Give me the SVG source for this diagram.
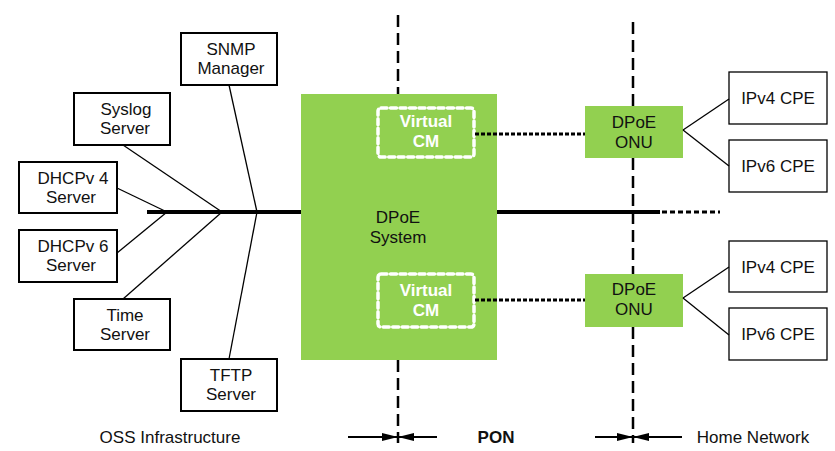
<svg xmlns="http://www.w3.org/2000/svg" width="835" height="451" viewBox="0 0 835 451">
<defs>
<style>
text{font-family:"Liberation Sans",Arial,sans-serif;font-size:17px;fill:#111;text-anchor:middle}
.box{fill:#fff;stroke:#000;stroke-width:2}
.cpe{fill:#fff;stroke:#000;stroke-width:1.3}
.green{fill:#92d050}
.vcm{fill:none;stroke:#fff;stroke-width:3.5;stroke-dasharray:6 3.5;stroke-linecap:round}
.w{fill:#fff;font-weight:bold}
.thin{stroke:#000;stroke-width:1.3;fill:none}
.bus{stroke:#000;stroke-width:4;fill:none}
.bdash{stroke:#000;stroke-width:3;stroke-dasharray:5 3;fill:none}
.vdash{stroke:#000;stroke-width:2.5;stroke-dasharray:12 6;fill:none}
.dot{stroke:#000;stroke-width:3;stroke-dasharray:4 2;fill:none}
.arr{stroke:#000;stroke-width:2;fill:none}
</style>
<marker id="ah" viewBox="0 0 16 8" refX="16" refY="4" markerWidth="16" markerHeight="8" markerUnits="userSpaceOnUse" orient="auto">
<path d="M0,0 L16,4 L0,8 Z" fill="#000"/>
</marker>
</defs>

<g id="snmp"><rect class="box" x="181" y="33" width="96" height="52"/><text x="231" y="55">SNMP</text><text x="231" y="74">Manager</text></g>
<g id="syslog"><rect class="box" x="74" y="93" width="96" height="52"/><text x="126" y="115">Syslog</text><text x="125" y="134">Server</text></g>
<g id="dhcpv4"><rect class="box" x="19" y="162" width="98" height="51"/><text x="73" y="184">DHCPv 4</text><text x="71" y="203">Server</text></g>
<g id="dhcpv6"><rect class="box" x="19" y="230" width="98" height="52"/><text x="73" y="252">DHCPv 6</text><text x="71" y="271">Server</text></g>
<g id="time"><rect class="box" x="74" y="299" width="96" height="51"/><text x="125" y="321">Time</text><text x="125" y="340">Server</text></g>
<g id="tftp"><rect class="box" x="181" y="359" width="96" height="52"/><text x="231" y="381">TFTP</text><text x="231" y="400">Server</text></g>

<g id="dpoe-system">
<rect class="green" x="301" y="94" width="196" height="266"/>
<text x="398" y="223">DPoE</text><text x="398" y="243">System</text>
</g>
<g id="vcm1"><rect class="vcm" x="378" y="108" width="96" height="49" rx="3"/><text class="w" x="426" y="127">Virtual</text><text class="w" x="426" y="147">CM</text></g>
<g id="vcm2"><rect class="vcm" x="378" y="274" width="96" height="53" rx="3"/><text class="w" x="426" y="296">Virtual</text><text class="w" x="426" y="316">CM</text></g>

<g id="onu1"><rect class="green" x="585" y="106" width="98" height="52"/><text x="634" y="128">DPoE</text><text x="634" y="148">ONU</text></g>
<g id="onu2"><rect class="green" x="585" y="274" width="98" height="53"/><text x="634" y="295">DPoE</text><text x="634" y="315">ONU</text></g>

<g id="ipv4-1"><rect class="cpe" x="729" y="72" width="98" height="52"/><text x="778" y="104">IPv4 CPE</text></g>
<g id="ipv6-1"><rect class="cpe" x="729" y="140" width="98" height="52"/><text x="778" y="172">IPv6 CPE</text></g>
<g id="ipv4-2"><rect class="cpe" x="729" y="241" width="98" height="51"/><text x="778" y="273">IPv4 CPE</text></g>
<g id="ipv6-2"><rect class="cpe" x="729" y="308" width="98" height="52"/><text x="778" y="340">IPv6 CPE</text></g>

<g id="connectors">
<line class="vdash" x1="398" y1="15" x2="398" y2="94"/>
<line class="vdash" x1="398" y1="360" x2="398" y2="443"/>
<line class="vdash" x1="633" y1="22" x2="633" y2="106"/>
<line class="vdash" x1="633" y1="158" x2="633" y2="274"/>
<line class="vdash" x1="633" y1="327" x2="633" y2="443"/>
<line class="bus" x1="147" y1="212" x2="301" y2="212"/>
<line class="bus" x1="497" y1="212" x2="660" y2="212"/>
<line class="bdash" x1="662" y1="212" x2="720" y2="212"/>
<line class="thin" x1="229" y1="85" x2="257" y2="212"/>
<line class="thin" x1="229" y1="359" x2="257" y2="212"/>
<line class="thin" x1="123" y1="145" x2="222" y2="212"/>
<line class="thin" x1="123" y1="299" x2="222" y2="212"/>
<line class="thin" x1="117" y1="188" x2="167" y2="212"/>
<line class="thin" x1="117" y1="253" x2="167" y2="212"/>
<line class="dot" x1="475" y1="134" x2="585" y2="134"/>
<line class="dot" x1="475" y1="300" x2="585" y2="300"/>
<line class="thin" x1="683" y1="130" x2="729" y2="99"/>
<line class="thin" x1="683" y1="130" x2="729" y2="166"/>
<line class="thin" x1="683" y1="298" x2="729" y2="267"/>
<line class="thin" x1="683" y1="298" x2="729" y2="335"/>
<line class="arr" x1="348" y1="437" x2="398" y2="437" marker-end="url(#ah)"/>
<line class="arr" x1="437" y1="437" x2="398" y2="437" marker-end="url(#ah)"/>
<line class="arr" x1="595" y1="437" x2="633" y2="437" marker-end="url(#ah)"/>
<line class="arr" x1="682" y1="437" x2="633" y2="437" marker-end="url(#ah)"/>
</g>

<g id="labels">
<text x="170" y="443">OSS Infrastructure</text>
<text x="496" y="443" style="font-weight:bold">PON</text>
<text x="753" y="443">Home Network</text>
</g>
</svg>
